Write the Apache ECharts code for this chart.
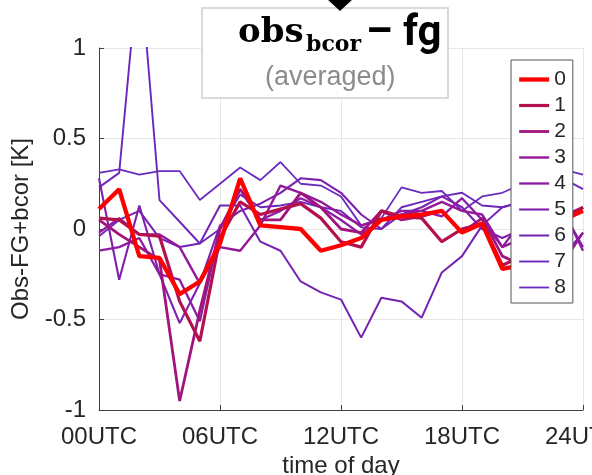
<!DOCTYPE html>
<html>
<head>
<meta charset="utf-8">
<script src="https://cdn.jsdelivr.net/npm/echarts@6/dist/echarts.min.js"></script>
<style>
  html, body { margin: 0; padding: 0; background: #fff; }
  #main { width: 592px; height: 475px; }
</style>
</head>
<body>
<div id="main"></div>
<script>
// hours of the day (UTC)
var hours = [0, 1, 2, 3, 4, 5, 6, 7, 8, 9, 10, 11, 12, 13, 14, 15, 16, 17, 18, 19, 20, 21, 22, 23, 24];
var xTickLabels = ['00UTC', '06UTC', '12UTC', '18UTC', '24UTC'];
var seriesNames = ['0', '1', '2', '3', '4', '5', '6', '7', '8'];

// obs - fg + bcor [K]
var s0 = [0.11, 0.22, -0.15, -0.16, -0.36, -0.29, -0.08, 0.28, 0.02, 0.01, 0.0, -0.12, -0.09, -0.05, 0.05, 0.07, 0.08, 0.10, -0.02, 0.03, -0.22, -0.20, -0.08, 0.05, 0.10];
var s1 = [0.06, 0.05, -0.03, -0.04, -0.40, -0.62, -0.05, 0.15, 0.08, 0.11, 0.14, 0.06, -0.07, -0.10, 0.10, 0.07, 0.06, -0.07, 0.0, 0.03, -0.20, -0.15, -0.05, 0.05, 0.12];
var s2 = [0.05, -0.03, -0.10, -0.17, -0.95, -0.45, 0.0, 0.22, 0.05, 0.05, 0.20, 0.12, 0.0, -0.02, 0.10, 0.05, 0.07, 0.10, -0.02, 0.06, -0.15, -0.20, -0.05, 0.07, 0.12];
var s3 = [-0.02, 0.06, -0.03, -0.03, -0.10, -0.30, -0.10, -0.12, 0.02, 0.24, 0.20, 0.15, 0.08, 0.02, 0.05, 0.08, 0.10, 0.15, 0.10, 0.08, -0.10, -0.05, 0.0, -0.19, -0.02];
var s4 = [-0.12, -0.10, -0.05, -0.25, -0.28, -0.51, 0.0, 0.22, 0.05, 0.10, 0.17, 0.12, 0.05, -0.03, 0.05, 0.10, 0.10, 0.07, 0.17, 0.05, -0.10, 0.05, 0.15, 0.11, -0.12];
var s5 = [0.28, -0.28, 0.13, -0.25, -0.52, -0.30, 0.02, 0.10, 0.14, 0.20, 0.28, 0.27, 0.20, 0.08, 0.0, 0.08, 0.12, 0.18, 0.12, 0.0, -0.05, 0.0, 0.10, 0.10, -0.10];
var s6 = [-0.04, 0.05, 0.10, -0.05, -0.10, -0.08, 0.13, 0.13, -0.07, -0.12, -0.29, -0.35, -0.39, -0.60, -0.38, -0.40, -0.49, -0.24, -0.15, 0.02, 0.12, 0.15, 0.05, -0.15, -0.02];
var s7 = [0.23, 0.31, 1.50, 0.16, 0.04, -0.08, 0.0, 0.19, 0.12, 0.13, 0.15, 0.12, 0.10, 0.01, 0.0, 0.12, 0.15, 0.18, 0.20, 0.13, 0.12, 0.15, 0.20, 0.28, 0.22];
var s8 = [0.31, 0.33, 0.30, 0.32, 0.32, 0.16, 0.25, 0.34, 0.27, 0.37, 0.25, 0.24, 0.18, 0.02, 0.06, 0.23, 0.20, 0.21, 0.10, 0.18, 0.20, 0.25, 0.30, 0.33, 0.30];
var allSeries = [s0, s1, s2, s3, s4, s5, s6, s7, s8];

var lineColors = ['#ff0000', '#b4104e', '#a0147e', '#94189a', '#8a1ca6', '#7e20ae', '#7424b4', '#6c28ba', '#6a2cc0'];
var lineWidths = [4.3, 3.2, 2.8, 2.4, 2.3, 2.1, 2, 1.9, 1.8];

var chart = echarts.init(document.getElementById('main'));
var txt = '#262626';
var fontFam = 'Liberation Sans';

var series = [];
for (var i = 0; i < allSeries.length; i++) {
  var pts = [];
  for (var j = 0; j < hours.length; j++) {
    pts.push([hours[j], allSeries[i][j]]);
  }
  series.push({
    name: seriesNames[i],
    type: 'line',
    data: pts,
    symbol: 'none',
    z: 20 - i,
    clip: true,
    color: lineColors[i],
    lineStyle: { width: lineWidths[i], color: lineColors[i] }
  });
}

var option = {
  animation: false,
  backgroundColor: '#fff',
  textStyle: { fontFamily: fontFam },
  grid: { left: 99, right: 9, top: 48, bottom: 65, outerBoundsMode: 'none', containLabel: false },
  xAxis: {
    type: 'value',
    min: 0, max: 24, interval: 6,
    name: 'time of day',
    nameLocation: 'middle',
    nameGap: 37,
    nameTextStyle: { fontSize: 24, color: txt, fontFamily: fontFam },
    axisLine: { show: true, onZero: false, lineStyle: { color: '#404040', width: 1 } },
    axisTick: { show: true, inside: true, length: 5, lineStyle: { color: '#404040' } },
    axisLabel: {
      fontSize: 24, color: txt, margin: 15, fontFamily: fontFam,
      formatter: function (v) { return xTickLabels[v / 6]; }
    },
    splitLine: { show: true, lineStyle: { color: '#e6e6e6', width: 1 } }
  },
  yAxis: {
    type: 'value',
    min: -1, max: 1, interval: 0.5,
    name: 'Obs-FG+bcor [K]',
    nameLocation: 'middle',
    nameGap: 62,
    nameRotate: 90,
    nameTextStyle: { fontSize: 24, color: txt, fontFamily: fontFam },
    axisLine: { show: true, onZero: false, lineStyle: { color: '#404040', width: 1 } },
    axisTick: { show: true, inside: true, length: 5, lineStyle: { color: '#404040' } },
    axisLabel: { fontSize: 24, color: txt, margin: 13, fontFamily: fontFam },
    splitLine: { show: true, lineStyle: { color: '#e6e6e6', width: 1 } }
  },
  legend: {
    data: seriesNames,
    orient: 'vertical',
    left: 511,
    top: 60,
    padding: [9, 7, 5, 6],
    itemWidth: 30,
    itemHeight: 14,
    itemGap: 5,
    backgroundColor: '#fff',
    borderColor: '#555',
    borderWidth: 1,
    lineStyle: { width: 'inherit' },
    itemStyle: { opacity: 0, borderWidth: 0 },
    textStyle: { fontSize: 21, color: txt, fontFamily: fontFam },
    z: 30
  },
  graphic: [
    {
      type: 'rect', z: 40,
      shape: { x: 202, y: 8, width: 246, height: 90 },
      style: { fill: '#fff', stroke: '#d9d9d9', lineWidth: 2 }
    },
    {
      type: 'polygon', z: 41,
      shape: { points: [[326, -2], [354, -2], [340, 11]] },
      style: { fill: '#000' }
    },
    {
      type: 'text', z: 42, left: 238, top: 16,
      style: { text: 'obs', font: 'bold 34px "DejaVu Serif"', fill: '#000' }
    },
    {
      type: 'text', z: 42, left: 306, top: 34,
      style: { text: 'bcor', font: 'bold 22px "DejaVu Serif"', fill: '#000' }
    },
    {
      type: 'text', z: 42, left: 366, top: 13,
      style: { text: '\u2013 fg', font: 'bold 42px "Roboto"', fill: '#000' }
    },
    {
      type: 'text', z: 42, left: 265, top: 64,
      style: { text: '(averaged)', font: '27px "Liberation Sans"', fill: '#8c8c8c' }
    }
  ],
  series: series
};
chart.setOption(option);
</script>
</body>
</html>
